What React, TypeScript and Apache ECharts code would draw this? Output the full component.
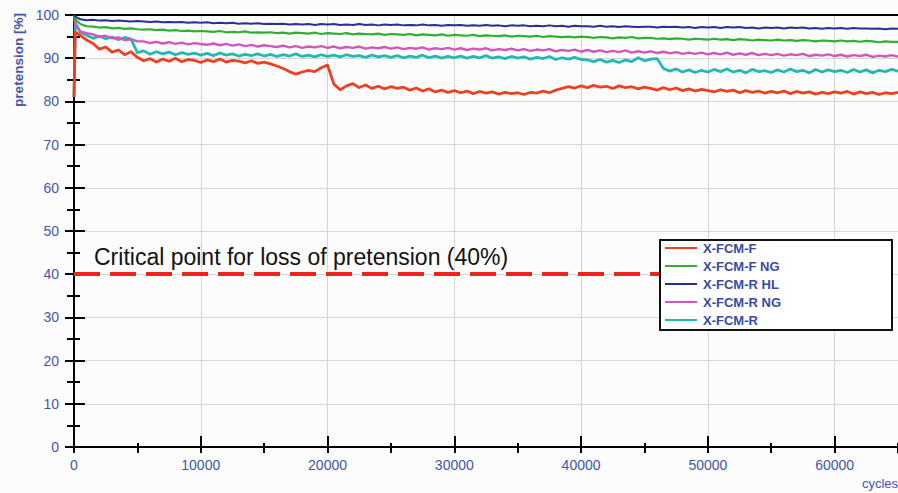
import React, { useEffect, useRef } from "react";
import * as echarts from "echarts";

// sampling grid: two start-up samples, then one sample every 500 cycles up to 65000
const CYCLES_HEAD = [0, 100];
const CYCLE_STEP = 500;
const CYCLE_END = 65000;
const cycles: number[] = [...CYCLES_HEAD];
for (let c = CYCLE_STEP; c <= CYCLE_END; c += CYCLE_STEP) cycles.push(c);

// pretension [%] per sample (head, then rows of 10 samples = 5000 cycles each)
const xfcmF = [
  81, 96,
  95.3, 94.2, 93.4, 92.1, 92.6, 91.4, 91.9, 90.8, 91.5, 90.2,
  89.4, 89.9, 89.1, 89.8, 89.3, 90.0, 89.2, 89.7, 89.5, 89.0,
  89.6, 89.2, 89.8, 89.1, 89.5, 89.3, 88.9, 89.4, 88.8, 89.1,
  88.7, 88.2, 87.6, 86.9, 86.3, 86.8, 87.2, 86.9, 87.8, 88.4,
  84.0, 82.7, 83.6, 84.1, 83.2, 83.8, 83.0, 83.5, 82.9, 83.4,
  83.0, 83.3, 82.6, 83.1, 82.4, 82.9, 82.2, 82.6, 82.1, 82.5,
  82.0, 82.4, 81.8, 82.3, 81.9, 82.2, 81.7, 82.1, 81.8, 82.0,
  81.6, 82.1, 81.9, 82.4, 82.0, 82.6, 83.0, 83.4, 83.1, 83.6,
  83.2, 83.7, 83.3, 83.5, 83.0, 83.6, 83.2, 83.4, 82.9, 83.3,
  83.0, 82.6, 83.2, 82.7, 83.1, 82.5, 82.9, 82.4, 82.8, 82.5,
  82.2, 82.7, 82.3, 82.6, 82.0, 82.5, 82.1, 82.4, 81.9, 82.3,
  82.0, 82.4, 81.8, 82.3, 81.9, 82.2, 81.7, 82.1, 81.8, 82.2,
  81.9, 82.3, 81.7, 82.2, 81.8, 82.1, 81.6, 82.0, 81.8, 82.1,
];

const xfcmFNG = [
  100, 99.0,
  97.9, 97.4, 97.3, 97.1, 97.2, 96.9, 97.0, 96.8, 96.9, 96.7,
  96.6, 96.7, 96.5, 96.6, 96.4, 96.5, 96.3, 96.4, 96.2, 96.3,
  96.2, 96.1, 96.3, 96.0, 96.1, 96.0, 96.2, 95.9, 96.0, 95.9,
  96.0, 95.8, 95.9, 95.7, 95.9, 95.8, 95.7, 95.9, 95.6, 95.8,
  95.7, 95.6, 95.8, 95.5, 95.7, 95.6, 95.5, 95.7, 95.4, 95.6,
  95.5, 95.4, 95.6, 95.3, 95.5, 95.4, 95.3, 95.5, 95.2, 95.4,
  95.3, 95.2, 95.4, 95.1, 95.3, 95.2, 95.1, 95.3, 95.0, 95.2,
  95.1, 95.0, 95.2, 94.9, 95.1, 95.0, 94.9, 95.0, 94.8, 95.0,
  94.9, 94.7, 94.9, 94.8, 94.6, 94.8, 94.7, 94.9, 94.6, 94.7,
  94.7, 94.5, 94.6, 94.4, 94.6, 94.5, 94.3, 94.5, 94.4, 94.3,
  94.5, 94.3, 94.4, 94.2, 94.4, 94.3, 94.1, 94.3, 94.2, 94.1,
  94.3, 94.1, 94.2, 94.0, 94.2, 94.1, 93.9, 94.1, 94.0, 93.9,
  94.1, 93.9, 94.0, 93.8, 94.0, 93.9, 93.7, 93.9, 93.8, 93.8,
];

const xfcmRHL = [
  100, 99.6,
  99.0, 98.8, 98.9, 98.7, 98.8, 98.6, 98.7, 98.6, 98.5, 98.6,
  98.5, 98.4, 98.5, 98.3, 98.4, 98.3, 98.4, 98.2, 98.3, 98.2,
  98.3, 98.1, 98.2, 98.1, 98.2, 98.0, 98.1, 98.0, 98.1, 97.9,
  98.0, 97.9, 98.0, 97.8, 97.9, 97.8, 97.9, 97.7, 97.9, 97.8,
  97.9, 97.7, 97.8, 97.7, 97.9, 97.7, 97.8, 97.6, 97.8, 97.7,
  97.8, 97.6, 97.7, 97.6, 97.8, 97.6, 97.7, 97.5, 97.7, 97.6,
  97.7, 97.5, 97.6, 97.5, 97.7, 97.5, 97.6, 97.4, 97.6, 97.5,
  97.6, 97.4, 97.5, 97.4, 97.6, 97.4, 97.5, 97.3, 97.5, 97.4,
  97.4, 97.3, 97.5, 97.3, 97.4, 97.2, 97.4, 97.3, 97.2, 97.3,
  97.3, 97.1, 97.3, 97.2, 97.3, 97.1, 97.2, 97.0, 97.2, 97.1,
  97.2, 97.0, 97.2, 97.1, 97.2, 97.0, 97.1, 96.9, 97.1, 97.0,
  97.1, 96.9, 97.1, 97.0, 97.1, 96.9, 97.0, 96.8, 97.0, 96.9,
  97.0, 96.8, 97.0, 96.9, 96.9, 96.8, 96.9, 96.7, 96.9, 96.8,
];

const xfcmRNG = [
  100, 97.6,
  96.2, 95.8, 95.5, 95.0, 95.2, 94.6, 94.8, 94.2, 94.4, 93.9,
  93.9, 93.5, 93.8, 93.4, 93.7, 93.3, 93.6, 93.2, 93.5, 93.3,
  93.1, 93.4, 93.0, 93.3, 92.9, 93.2, 92.8, 93.1, 92.7, 93.0,
  92.8, 92.6, 92.9, 92.5, 92.8, 92.4, 92.7, 92.5, 92.8, 92.4,
  92.7, 92.3, 92.6, 92.4, 92.7, 92.2, 92.5, 92.3, 92.6, 92.2,
  92.5, 92.1, 92.4, 92.2, 92.5, 92.0, 92.3, 92.1, 92.4, 92.0,
  92.3, 91.9, 92.2, 92.0, 92.3, 91.8, 92.1, 91.9, 92.2, 91.8,
  92.1, 91.7, 92.0, 91.8, 92.1, 91.6, 91.9, 91.7, 92.0, 91.5,
  91.9, 91.5, 91.8, 91.4, 91.7, 91.4, 91.8, 91.3, 91.6, 91.3,
  91.6, 91.2, 91.5, 91.1, 91.4, 91.0, 91.3, 91.0, 91.3, 90.9,
  91.2, 90.9, 91.3, 90.8, 91.1, 90.8, 91.2, 90.7, 91.0, 90.7,
  91.0, 90.6, 90.9, 90.7, 91.0, 90.5, 90.8, 90.6, 90.9, 90.5,
  90.8, 90.4, 90.7, 90.5, 90.8, 90.3, 90.6, 90.4, 90.7, 90.4,
];

const xfcmR = [
  81, 98.2,
  96.0, 95.3, 94.6, 95.1, 94.5, 94.9, 94.3, 94.8, 94.4, 91.3,
  91.7, 90.9, 91.5, 91.0, 91.4, 90.8, 91.3, 90.9, 91.2, 90.7,
  91.1, 90.6, 91.2, 90.7, 91.0, 90.5, 90.9, 90.6, 91.0, 90.5,
  90.9, 90.4, 90.8, 90.5, 91.0, 90.4, 90.7, 90.3, 90.8, 90.4,
  90.7, 90.3, 90.8, 90.4, 90.6, 90.2, 90.7, 90.3, 90.6, 90.2,
  90.6, 90.1, 90.5, 90.2, 90.7, 90.1, 90.5, 90.0, 90.4, 90.1,
  90.5, 90.0, 90.4, 90.1, 90.6, 90.0, 90.3, 89.9, 90.4, 90.0,
  90.3, 89.8, 90.2, 89.9, 90.4, 89.7, 90.1, 89.8, 90.2, 89.7,
  89.6, 89.2, 89.7, 89.1, 89.5, 89.0, 89.6, 89.2, 90.1, 89.4,
  89.8, 89.9, 87.6, 87.0, 87.5, 86.8, 87.3, 86.7, 87.2, 86.8,
  87.4, 86.9, 87.5, 86.8, 87.2, 86.6, 87.4, 86.9, 87.1, 86.7,
  87.3, 86.8, 87.5, 86.9, 87.2, 86.6, 87.4, 86.8, 87.3, 86.9,
  87.2, 86.7, 87.4, 86.8, 87.3, 86.6, 87.2, 86.9, 87.4, 87.0,
];

const SERIES_NAMES = ["X-FCM-F", "X-FCM-F NG", "X-FCM-R HL", "X-FCM-R NG", "X-FCM-R"];
const SERIES_VALUES = [xfcmF, xfcmFNG, xfcmRHL, xfcmRNG, xfcmR];
const SERIES_COLORS = ["#ec4120", "#30b030", "#2a2f98", "#d058bc", "#22b9b4"];
const SERIES_WIDTHS = [2.8, 2.2, 2.0, 2.4, 2.8];
const DRAW_ORDER = [4, 3, 1, 2, 0];

const CRITICAL_LEVEL = 40;
const CRITICAL_TEXT = "Critical point for loss of pretension (40%)";
const Y_NAME = "pretension [%]";
const X_NAME = "cycles";

const X_MIN = 0;
const X_MAX = 65000;
const Y_MIN = 0;
const Y_MAX = 100;

const FONT = "'Liberation Sans', Arial, sans-serif";
const LABEL_COLOR = "#4556a6";

export default function App() {
  const ref = useRef<HTMLDivElement>(null);

  useEffect(() => {
    if (!ref.current) return;
    const chart = echarts.init(ref.current, undefined, { renderer: "svg" });

    const grid = { left: 74, right: 0, top: 15, bottom: 46, containLabel: false };

    const hiddenAxisBase = {
      min: X_MIN,
      max: X_MAX,
      axisLine: { show: false },
      axisLabel: { show: false },
      splitLine: { show: false },
    };

    const series: any[] = DRAW_ORDER.map((i) => ({
      name: SERIES_NAMES[i],
      type: "line",
      xAxisIndex: 0,
      yAxisIndex: 0,
      data: cycles.map((c, k) => [c, SERIES_VALUES[i][k]]),
      showSymbol: false,
      symbol: "none",
      lineStyle: { color: SERIES_COLORS[i], width: SERIES_WIDTHS[i], join: "round" },
      itemStyle: { color: SERIES_COLORS[i] },
      z: 3,
    }));

    series.push({
      name: "critical",
      type: "line",
      data: [],
      xAxisIndex: 0,
      yAxisIndex: 0,
      markLine: {
        silent: true,
        symbol: ["none", "none"],
        label: { show: false },
        lineStyle: { color: "#e8251e", width: 4, type: [26, 10] },
        data: [{ yAxis: CRITICAL_LEVEL }],
      },
      z: 2,
    });

    chart.setOption({
      animation: false,
      backgroundColor: "#fcfcfc",
      textStyle: { fontFamily: FONT },
      grid,
      legend: {
        data: SERIES_NAMES,
        orient: "vertical",
        left: 665,
        top: 241,
        padding: 0,
        itemGap: 4,
        itemWidth: 32,
        itemHeight: 2,
        icon: "rect",
        z: 120,
        textStyle: {
          color: "#3a4aa6",
          fontSize: 13,
          fontWeight: "bold",
          fontFamily: FONT,
          lineHeight: 14,
          padding: [0, 0, 0, 1],
        },
      },
      xAxis: [
        {
          type: "value",
          position: "bottom",
          min: X_MIN,
          max: X_MAX,
          interval: 10000,
          axisLine: { show: true, onZero: false, lineStyle: { color: "#000", width: 2 } },
          axisTick: { show: true, inside: true, length: 11, lineStyle: { color: "#000", width: 2 } },
          axisLabel: {
            color: LABEL_COLOR,
            fontSize: 14,
            margin: 11,
            fontFamily: FONT,
            showMaxLabel: false,
            formatter: (v: number) => String(v),
          },
          splitLine: { show: true, lineStyle: { color: "#d6d6d6", width: 1 } },
        },
        {
          type: "value",
          position: "bottom",
          interval: 10000,
          ...hiddenAxisBase,
          axisTick: { show: true, inside: false, length: 5, lineStyle: { color: "#000", width: 2 } },
        },
        {
          type: "value",
          position: "bottom",
          interval: 5000,
          ...hiddenAxisBase,
          axisTick: { show: true, inside: false, length: 6, lineStyle: { color: "#000", width: 2 } },
        },
        {
          type: "value",
          position: "bottom",
          interval: 5000,
          ...hiddenAxisBase,
          axisTick: { show: true, inside: true, length: 4, lineStyle: { color: "#000", width: 2 } },
        },
        {
          type: "value",
          position: "top",
          min: X_MIN,
          max: X_MAX,
          axisLine: { show: true, onZero: false, lineStyle: { color: "#000", width: 2 } },
          axisTick: { show: false },
          axisLabel: { show: false },
          splitLine: { show: false },
        },
      ],
      yAxis: [
        {
          type: "value",
          position: "left",
          min: Y_MIN,
          max: Y_MAX,
          interval: 10,
          axisLine: { show: true, onZero: false, lineStyle: { color: "#000", width: 2 } },
          axisTick: { show: true, inside: false, length: 9, lineStyle: { color: "#000", width: 2 } },
          minorTick: { show: true, splitNumber: 2, length: 7, lineStyle: { color: "#000", width: 2 } },
          axisLabel: { color: LABEL_COLOR, fontSize: 14, margin: 15, fontFamily: FONT },
          splitLine: { show: true, lineStyle: { color: "#d6d6d6", width: 1 } },
        },
        {
          type: "value",
          position: "left",
          min: Y_MIN,
          max: Y_MAX,
          interval: 10,
          axisLine: { show: false },
          axisTick: { show: true, inside: true, length: 11, lineStyle: { color: "#000", width: 2 } },
          minorTick: { show: true, splitNumber: 2, length: 6, lineStyle: { color: "#000", width: 2 } },
          axisLabel: { show: false },
          splitLine: { show: false },
        },
      ],
      series,
      graphic: [
        {
          type: "text",
          x: 18,
          y: 60,
          rotation: Math.PI / 2,
          style: {
            text: Y_NAME,
            fill: LABEL_COLOR,
            font: `bold 13.5px ${FONT}`,
            align: "center",
            verticalAlign: "middle",
          },
        },
        {
          type: "text",
          x: 898,
          y: 483,
          style: {
            text: X_NAME,
            fill: LABEL_COLOR,
            font: `13px ${FONT}`,
            align: "right",
            verticalAlign: "middle",
          },
        },
        {
          type: "text",
          x: 94,
          y: 257,
          z: 50,
          style: {
            text: CRITICAL_TEXT,
            fill: "#111",
            font: `23px ${FONT}`,
            align: "left",
            verticalAlign: "middle",
          },
        },
        {
          type: "rect",
          z: 100,
          shape: { x: 660, y: 240, width: 232, height: 90 },
          style: { fill: "#ffffff", stroke: "#111", lineWidth: 2 },
        },
      ],
    });

    return () => chart.dispose();
  }, []);

  return (
    <div
      ref={ref}
      style={{ position: "fixed", left: 0, top: 0, width: 898, height: 493 }}
    />
  );
}
